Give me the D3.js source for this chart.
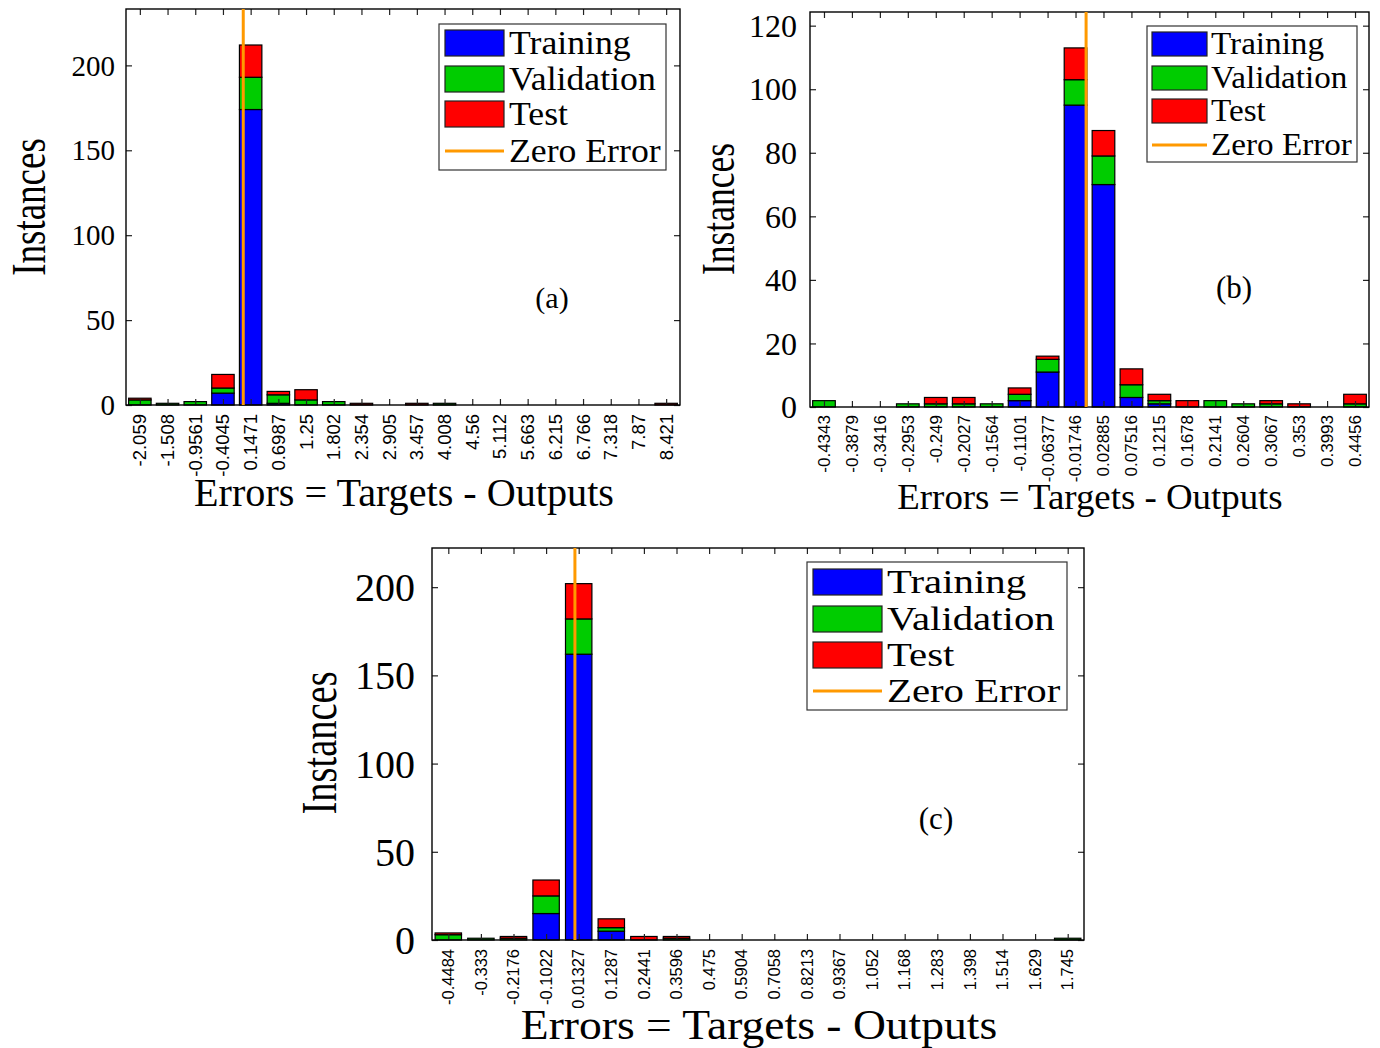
<!DOCTYPE html>
<html>
<head>
<meta charset="utf-8">
<script src="https://cdn.jsdelivr.net/npm/d3@7/dist/d3.min.js"></script>
<style>
  html, body { margin: 0; padding: 0; background: #fff; }
  svg { display: block; }
</style>
</head>
<body>
<svg id="chart" width="1380" height="1048"></svg>
<script>
// ---- Error histogram data (20 bins per network) ----
const binsA = ["-2.059","-1.508","-0.9561","-0.4045","0.1471","0.6987","1.25","1.802","2.354","2.905",
               "3.457","4.008","4.56","5.112","5.663","6.215","6.766","7.318","7.87","8.421"];
const trainA = [0,0,0,7,174,1,0,0,0,0,0,0,0,0,0,0,0,0,0,0];
const valA   = [3,1,2,3,19,5,3,2,0,0,0,1,0,0,0,0,0,0,0,0];
const testA  = [1,0,0,8,19,2,6,0,1,0,1,0,0,0,0,0,0,0,0,1];

const binsB = ["-0.4343","-0.3879","-0.3416","-0.2953","-0.249","-0.2027","-0.1564","-0.1101","-0.06377","-0.01746",
               "0.02885","0.07516","0.1215","0.1678","0.2141","0.2604","0.3067","0.353","0.3993","0.4456"];
const trainB = [0,0,0,0,0,0,0,2,11,95,70,3,1,0,0,0,0,0,0,0];
const valB   = [2,0,0,1,1,1,1,2,4,8,9,4,1,0,2,1,1,0,0,1];
const testB  = [0,0,0,0,2,2,0,2,1,10,8,5,2,2,0,0,1,1,0,3];

const binsC = ["-0.4484","-0.333","-0.2176","-0.1022","0.01327","0.1287","0.2441","0.3596","0.475","0.5904",
               "0.7058","0.8213","0.9367","1.052","1.168","1.283","1.398","1.514","1.629","1.745"];
const trainC = [0,0,0,15,162,5,0,0,0,0,0,0,0,0,0,0,0,0,0,0];
const valC   = [3,1,1,10,20,2,0,1,0,0,0,0,0,0,0,0,0,0,0,1];
const testC  = [1,0,1,9,20,5,2,1,0,0,0,0,0,0,0,0,0,0,0,0];

const ticksA = [0,50,100,150,200];
const ticksB = [0,20,40,60,80,100,120];
const ticksC = [0,50,100,150,200];

const seriesNames = ["Training","Validation","Test"];
const zeroName = "Zero Error";
const xTitle = "Errors = Targets - Outputs";
const yTitle = "Instances";
const colors = { Training: "#0000ff", Validation: "#00cc00", Test: "#ff0000", zero: "#ff9900" };

const SERIF = "'Liberation Serif','Times New Roman',serif";
const SANS = "'Liberation Sans',Arial,sans-serif";

const svg = d3.select("#chart");

function drawPanel(p) {
  const g = svg.append("g");
  const n = p.bins.length;
  const centers = p.bins.map(Number);
  const w = (centers[n - 1] - centers[0]) / (n - 1);

  // band scale for bars, linear scale for the zero-error position
  const xb = d3.scaleBand().domain(d3.range(n)).range([p.left, p.right]).paddingInner(0.19).paddingOuter(0.095);
  const xv = d3.scaleLinear().domain([centers[0] - w / 2, centers[n - 1] + w / 2]).range([p.left, p.right]);
  const totals = d3.range(n).map(i => p.train[i] + p.val[i] + p.test[i]);
  const y = d3.scaleLinear().domain([0, d3.max(totals) * 1.1]).range([p.bottom, p.top]);

  const rows = d3.range(n).map(i => ({ i, Training: p.train[i], Validation: p.val[i], Test: p.test[i] }));
  const stack = d3.stack().keys(seriesNames)(rows);

  // stacked bars
  stack.forEach(layer => {
    g.append("g").selectAll("rect")
      .data(layer.filter(d => d[1] > d[0]))
      .join("rect")
      .attr("x", d => xb(d.data.i))
      .attr("width", xb.bandwidth())
      .attr("y", d => y(d[1]))
      .attr("height", d => y(d[0]) - y(d[1]))
      .attr("fill", colors[layer.key])
      .attr("stroke", "#000")
      .attr("stroke-width", 1.2);
  });

  // axes frame with inward ticks on all four sides
  const bandCenter = i => xb(i) + xb.bandwidth() / 2;
  const ident = d3.scaleLinear().domain([p.left, p.right]).range([p.left, p.right]);
  const xAxisB = d3.axisBottom(ident).tickValues(d3.range(n).map(bandCenter)).tickSize(-6).tickFormat("");
  const xAxisT = d3.axisTop(ident).tickValues(d3.range(n).map(bandCenter)).tickSize(-6).tickFormat("");
  const yAxisL = d3.axisLeft(y).tickValues(p.ticks).tickSize(-6).tickFormat("");
  const yAxisR = d3.axisRight(y).tickValues(p.ticks).tickSize(-6).tickFormat("");

  [[xAxisB, `translate(0,${p.bottom})`], [xAxisT, `translate(0,${p.top})`],
   [yAxisL, `translate(${p.left},0)`], [yAxisR, `translate(${p.right},0)`]].forEach(([ax, tr]) => {
    const a = g.append("g").attr("transform", tr).call(ax);
    a.select(".domain").remove();
    a.selectAll("line").attr("stroke", "#222").attr("stroke-width", 1.2);
  });
  g.append("rect")
    .attr("x", p.left).attr("y", p.top)
    .attr("width", p.right - p.left).attr("height", p.bottom - p.top)
    .attr("fill", "none").attr("stroke", "#000").attr("stroke-width", 1.4);

  // zero error line
  g.append("line")
    .attr("x1", xv(0)).attr("x2", xv(0))
    .attr("y1", p.top).attr("y2", p.bottom)
    .attr("stroke", colors.zero).attr("stroke-width", 3);

  // y tick labels
  g.append("g").selectAll("text").data(p.ticks).join("text")
    .attr("x", p.left - p.yTickGap)
    .attr("y", d => y(d))
    .attr("dy", "0.35em")
    .attr("text-anchor", "end")
    .attr("font-family", SERIF)
    .attr("font-size", p.yTickFont)
    .text(d => d);

  // x tick labels (rotated)
  g.append("g").selectAll("text").data(p.bins).join("text")
    .attr("transform", (d, i) => `translate(${bandCenter(i)},${p.bottom + p.xTickGap}) rotate(-90)`)
    .attr("dy", "0.35em")
    .attr("text-anchor", "end")
    .attr("font-family", SANS)
    .attr("font-size", p.xTickFont)
    .text(d => d);

  // axis titles
  g.append("text")
    .attr("transform", `translate(${p.xTitlePos[0]},${p.xTitlePos[1]}) scale(${p.xTitleStretch},1)`)
    .attr("text-anchor", "middle")
    .attr("font-family", SERIF).attr("font-size", p.xTitleFont)
    .text(xTitle);
  g.append("text")
    .attr("transform", `translate(${p.yTitlePos[0]},${p.yTitlePos[1]}) rotate(-90) scale(1,${p.yTitleStretch})`)
    .attr("text-anchor", "middle")
    .attr("dy", "0.35em")
    .attr("font-family", SERIF).attr("font-size", p.yTitleFont)
    .text(yTitle);

  // panel tag
  g.append("text")
    .attr("x", p.tagPos[0]).attr("y", p.tagPos[1])
    .attr("text-anchor", "middle").attr("dy", "0.35em")
    .attr("font-family", SERIF).attr("font-size", p.tagFont)
    .text(p.tag);

  // legend
  const L = p.legend;
  const lg = g.append("g");
  lg.append("rect")
    .attr("x", L.x).attr("y", L.y).attr("width", L.w).attr("height", L.h)
    .attr("fill", "#fff").attr("stroke", "#333").attr("stroke-width", 1.2);
  const items = seriesNames.concat([zeroName]);
  items.forEach((name, k) => {
    const cy = L.rows[k];
    if (k < 3) {
      lg.append("rect")
        .attr("x", L.sx).attr("y", cy - L.sh / 2)
        .attr("width", L.sw).attr("height", L.sh)
        .attr("fill", colors[name]).attr("stroke", "#222").attr("stroke-width", 1.2);
    } else {
      lg.append("line")
        .attr("x1", L.sx).attr("x2", L.sx + L.sw)
        .attr("y1", cy).attr("y2", cy)
        .attr("stroke", colors.zero).attr("stroke-width", 3);
    }
    lg.append("text")
      .attr("transform", `translate(${L.tx},${cy}) scale(${L.stretch},1)`)
      .attr("dy", "0.33em")
      .attr("font-family", SERIF).attr("font-size", L.font)
      .text(name);
  });
}

drawPanel({
  bins: binsA, train: trainA, val: valA, test: testA, ticks: ticksA,
  left: 126, right: 680, top: 9, bottom: 405,
  yTickGap: 11, yTickFont: 29, xTickGap: 9, xTickFont: 18.5,
  xTitlePos: [404, 506], xTitleFont: 39, xTitleStretch: 1.03,
  yTitlePos: [28, 207], yTitleFont: 37, yTitleStretch: 1.3,
  tag: "(a)", tagPos: [552, 297], tagFont: 30,
  legend: { x: 439, y: 24, w: 227, h: 146, sx: 445, sw: 59, sh: 26, rows: [43, 79, 114, 151], tx: 509, font: 34, stretch: 1.05 }
});

drawPanel({
  bins: binsB, train: trainB, val: valB, test: testB, ticks: ticksB,
  left: 810, right: 1369, top: 12, bottom: 407,
  yTickGap: 13, yTickFont: 32, xTickGap: 8, xTickFont: 17,
  xTitlePos: [1090, 509], xTitleFont: 36.5, xTitleStretch: 1.01,
  yTitlePos: [718, 209], yTitleFont: 35.5, yTitleStretch: 1.3,
  tag: "(b)", tagPos: [1234, 287], tagFont: 31,
  legend: { x: 1147, y: 26, w: 210, h: 136, sx: 1152, sw: 55, sh: 24, rows: [44, 78, 111, 145], tx: 1211, font: 31, stretch: 1.07 }
});

drawPanel({
  bins: binsC, train: trainC, val: valC, test: testC, ticks: ticksC,
  left: 432, right: 1084, top: 548, bottom: 940,
  yTickGap: 17, yTickFont: 40, xTickGap: 9, xTickFont: 16.5,
  xTitlePos: [759, 1039], xTitleFont: 42, xTitleStretch: 1.085,
  yTitlePos: [318, 743], yTitleFont: 38.5, yTitleStretch: 1.3,
  tag: "(c)", tagPos: [936, 818], tagFont: 31,
  legend: { x: 807, y: 562, w: 260, h: 148, sx: 813, sw: 69, sh: 26, rows: [582, 619, 655, 691], tx: 887, font: 34, stretch: 1.2 }
});
</script>
</body>
</html>
